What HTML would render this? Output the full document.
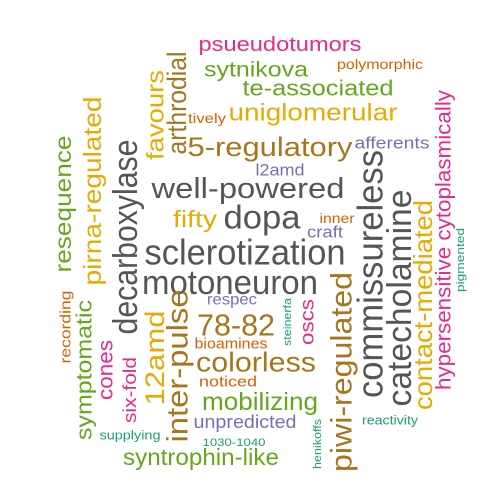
<!DOCTYPE html>
<html><head><meta charset="utf-8"><style>
html,body{margin:0;padding:0;background:#fff;}
svg{display:block;}
text{font-family:"Liberation Sans",Arial,sans-serif;}
</style></head><body>
<svg id="cloud" width="500" height="500" viewBox="0 0 500 500"></svg>
<script>
const words=["psueudotumors","sytnikova","polymorphic","te-associated","uniglomerular","tively","5-regulatory","afferents","l2amd","well-powered","fifty","dopa","inner","craft","sclerotization","motoneuron","respec","78-82","bioamines","colorless","noticed","mobilizing","unpredicted","syntrophin-like","1030-1040","supplying","reactivity","steinerfa","oscs","henikoffs","decarboxylase","resequence","pirna-regulated","favours","arthrodial","recording","symptomatic","cones","six-fold","12amd","inter-pulse","commissureless","catecholamine","contact-mediated","hypersensitive cytoplasmically","pigmented","piwi-regulated"];
const cx=[280,256,380,318,313,207,270,392,280,248,195,262,337,325,245,230,232,236,231,256,228,260,245,201,234,130,390,288,308,318,126,63,93,156,177,66,84,106,130,155,178,370,400,423,444,461,342];
const cy=[45,70,64,88,113,118,147,143,170,189,219,217,218,232,252,283,300,325,344,362,382,402,422,457,443,435,420,322,322,444,237,204,191,115,103,327,370,370,390,358,366,274,298,305,240,260,372];
const sizes=[20,21,14,22,24,14,27,17,17,29,23,33,14,17,36,34,16,31,15,28,15,25,18,23,11,13,13,11,19,11,34,23,25,24,27,15,22,21,18,27,30,36,34,26,21,11,30];
const lens=[163,104,86,151,169,38,165,75,49,193,44,77,35,36,201,176,50,78,73,120,58,116,103,156,63,61,56,48,46,50,195,137,189,90,103,73,140,60,66,95,153,248,217,210,300,64,200];
const rots=[0,0,0,0,0,0,0,0,0,0,0,0,0,0,0,0,0,0,0,0,0,0,0,0,0,0,0,-90,-90,-90,-90,-90,-90,-90,-90,-90,-90,-90,-90,-90,-90,-90,-90,-90,-90,-90,-90];
const colors=["#E7298A","#66A61E","#D95F02","#66A61E","#E6AB02","#D95F02","#A6761D","#7570B3","#7570B3","#555555","#E6AB02","#555555","#D95F02","#7570B3","#555555","#555555","#7570B3","#A6761D","#D95F02","#A6761D","#D95F02","#66A61E","#7570B3","#66A61E","#1B9E77","#1B9E77","#1B9E77","#1B9E77","#E7298A","#1B9E77","#555555","#66A61E","#E6AB02","#E6AB02","#A6761D","#D95F02","#66A61E","#E7298A","#E7298A","#E6AB02","#A6761D","#555555","#555555","#E6AB02","#E7298A","#1B9E77","#A6761D"];
const svg=document.getElementById('cloud');
const NS='http://www.w3.org/2000/svg';
words.forEach((w,i)=>{
  const t=document.createElementNS(NS,'text');
  
  
  t.setAttribute('x',cx[i]);
  t.setAttribute('y',cy[i]);
  t.setAttribute('text-anchor','middle');
  t.setAttribute('dominant-baseline','central');
  t.setAttribute('font-size',sizes[i]);
  t.setAttribute('fill',colors[i]);
  t.setAttribute('textLength',lens[i]);
  t.setAttribute('lengthAdjust','spacingAndGlyphs');
  if(rots[i]) t.setAttribute('transform','rotate('+rots[i]+' '+cx[i]+' '+cy[i]+')');
  t.textContent=w;
  svg.appendChild(t);
});
</script>
</body></html>
